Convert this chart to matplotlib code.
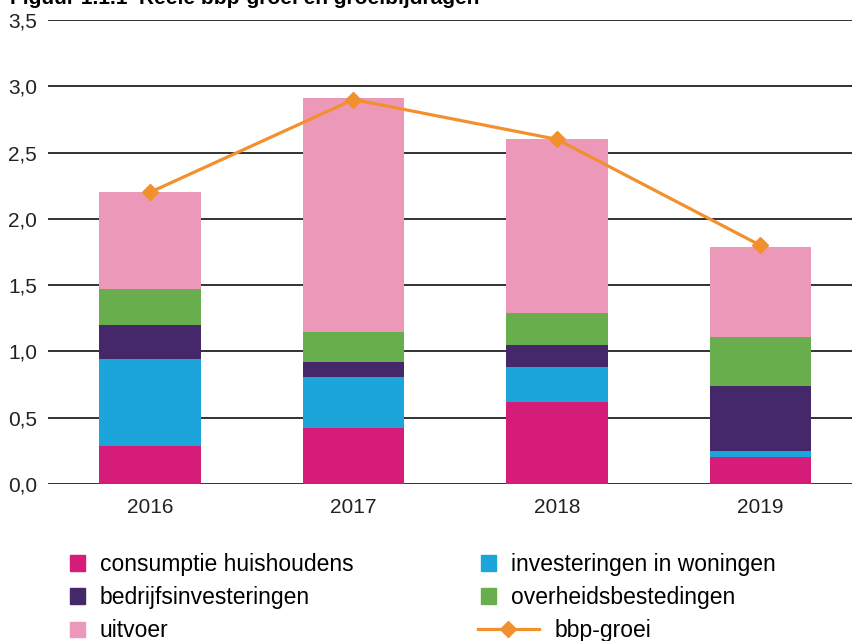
"""
Figuur 1.1.1: Reële bbp-groei en groeibijdragen, 2016-2019.
"""
import numpy as np
import matplotlib.pyplot as plt
import matplotlib.patches as mpatches
from matplotlib.lines import Line2D
from matplotlib.legend_handler import HandlerPatch

plt.rcParams["font.family"] = ["Liberation Sans", "DejaVu Sans"]

years = ["2016", "2017", "2018", "2019"]
consumptie = [0.29, 0.42, 0.62, 0.20]
woningen = [0.65, 0.39, 0.26, 0.05]
bedrijf = [0.26, 0.11, 0.17, 0.49]
overheid = [0.27, 0.23, 0.24, 0.37]
uitvoer = [0.73, 1.76, 1.31, 0.68]
bbp_groei = [2.2, 2.9, 2.6, 1.8]

series = [
    ("consumptie huishoudens", consumptie, "#d41c78"),
    ("investeringen in woningen", woningen, "#1ca5db"),
    ("bedrijfsinvesteringen", bedrijf, "#44286a"),
    ("overheidsbestedingen", overheid, "#69ae4d"),
    ("uitvoer", uitvoer, "#ec98b9"),
]
line_colour = "#f2902e"

fig = plt.figure(figsize=(8.53, 6.41), dpi=100)
ax = fig.add_axes([48 / 853, 157 / 641, 1 - 48 / 853, 464 / 641])

x = np.arange(len(years))
bottom = np.zeros(len(years))
for name, vals, col in series:
    ax.bar(x, vals, width=0.5, bottom=bottom, color=col, zorder=3)
    bottom += np.array(vals)

ax.plot(x, bbp_groei, color=line_colour, linewidth=2.3, marker="D",
        markersize=8, zorder=4)

ax.set_ylim(0, 3.5)
ax.set_xlim(-0.501, 3.455)
yt = np.arange(0, 3.51, 0.5)
ax.set_yticks(yt)
ax.set_yticklabels([f"{v:.1f}".replace(".", ",") for v in yt])
ax.set_xticks(x)
ax.set_xticklabels(years)
ax.tick_params(axis="both", length=0, labelsize=15, colors="#222222")
ax.tick_params(axis="y", pad=8)
ax.tick_params(axis="x", pad=10)
ax.grid(axis="y", color="#222222", linewidth=1.3, zorder=0)
for s in ax.spines.values():
    s.set_visible(False)

# title, cut off at the top edge like the source
fig.text(10 / 853, 1 - 4 / 641, "Figuur 1.1.1  Reële bbp-groei en groeibijdragen",
         fontsize=15, fontweight="bold", va="baseline", ha="left")


def square(legend, orig_handle, xdescent, ydescent, width, height, fontsize):
    s = 11
    return mpatches.Rectangle((-xdescent, -ydescent + (height - s) / 2), s, s)


colours = dict((n, c) for n, _, c in series)
hmap = {mpatches.Patch: HandlerPatch(patch_func=square)}
common = dict(frameon=False, fontsize=16.5, labelspacing=0.44, borderpad=0,
              borderaxespad=0, loc="upper left", handletextpad=0.8,
              handlelength=0.5, handler_map=hmap)

col1 = ["consumptie huishoudens", "bedrijfsinvesteringen", "uitvoer"]
fig.legend([mpatches.Patch(color=colours[n]) for n in col1], col1,
           bbox_to_anchor=(70 / 853, 1 - 553 / 641), **common)

col2 = ["investeringen in woningen", "overheidsbestedingen"]
fig.legend([mpatches.Patch(color=colours[n]) for n in col2], col2,
           bbox_to_anchor=(481 / 853, 1 - 553 / 641), **common)

line_h = Line2D([], [], color=line_colour, linewidth=2.3, marker="D", markersize=8)
common3 = dict(common)
common3.update(handlelength=2.65, handletextpad=0.7, handler_map=None)
fig.legend([line_h], ["bbp-groei"],
           bbox_to_anchor=(478 / 853, 1 - 619 / 641), **common3)

plt.savefig("out.png", dpi=100)
